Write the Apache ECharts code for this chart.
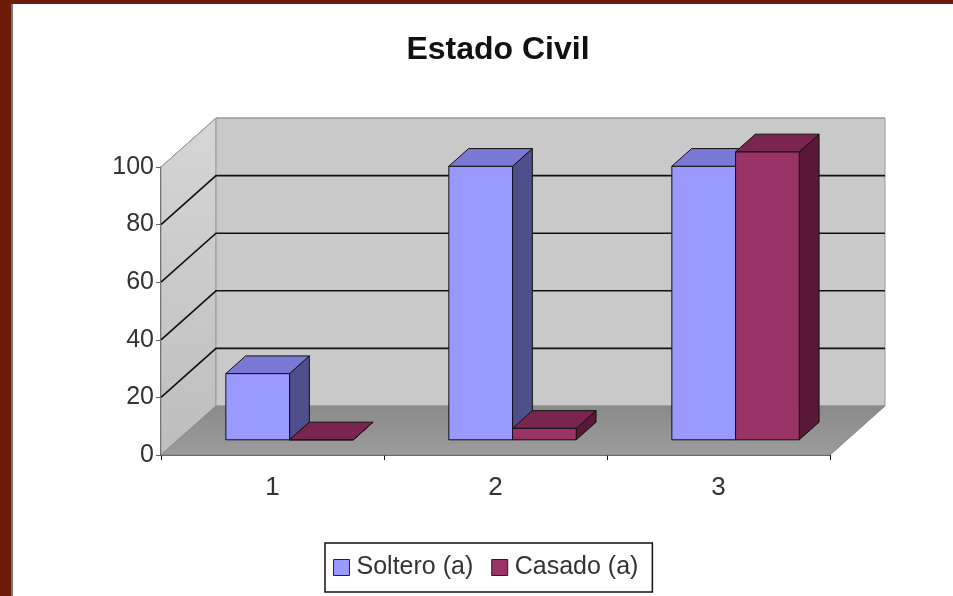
<!DOCTYPE html>
<html>
<head>
<meta charset="utf-8">
<script src="https://cdn.jsdelivr.net/npm/echarts@6/dist/echarts.min.js"></script>
<style>
  html, body { margin: 0; padding: 0; background: #fff; }
  #main { width: 953px; height: 596px; }
</style>
</head>
<body>
<div id="main"></div>
<script>
  const categories = ['1', '2', '3'];
  const soltero = [23, 95, 95];
  const casado = [0, 4, 100];
  const yTicks = [0, 20, 40, 60, 80, 100];

  // 3D look: full depth offset of the box and the slice of depth the bars use
  const DX = 55, DY = -49;
  const F0 = 0.31, F1 = 0.67;
  const font = "'Liberation Sans', Arial, sans-serif";

  const drawBox = (params, api) => {
    const cs = params.coordSys;
    const L = cs.x, R = cs.x + cs.width;
    const y = v => api.coord([0, v])[1];
    const y0 = y(0), yTop = y(100);
    const children = [];
    children.push({
      type: 'polygon',
      shape: { points: [[L, y0], [L, yTop], [L + DX, yTop + DY], [L + DX, y0 + DY]] },
      style: { fill: new echarts.graphic.LinearGradient(0, 0, 0, 1, [
        { offset: 0, color: '#d6d6d6' }, { offset: 1, color: '#bdbdbd' }
      ]), stroke: '#9a9a9a', lineWidth: 1 }
    });
    children.push({
      type: 'polygon',
      shape: { points: [[L + DX, yTop + DY], [R + DX, yTop + DY], [R + DX, y0 + DY], [L + DX, y0 + DY]] },
      style: { fill: '#c9c9c9', stroke: '#9a9a9a', lineWidth: 1 }
    });
    children.push({
      type: 'polygon',
      shape: { points: [[L, y0], [R, y0], [R + DX, y0 + DY], [L + DX, y0 + DY]] },
      style: { fill: new echarts.graphic.LinearGradient(0, 0, 0, 1, [
        { offset: 0, color: '#8a8a8a' }, { offset: 1, color: '#9c9c9c' }
      ]), stroke: '#8a8a8a', lineWidth: 1 }
    });
    yTicks.forEach(v => {
      if (v === 0) return;
      const yy = y(v);
      const top = v === 100;
      children.push({
        type: 'polyline',
        shape: { points: [[L, yy], [L + DX, yy + DY], [R + DX, yy + DY]] },
        style: { fill: null, stroke: top ? '#9a9a9a' : '#111', lineWidth: top ? 1 : 1.6 }
      });
    });
    return { type: 'group', children };
  };

  const makeBar = (shift, colors) => (params, api) => {
    const top = api.coord([api.value(0), api.value(1)]);
    const base = api.coord([api.value(0), 0]);
    const band = api.size([1, 0])[0];
    const w = band / 3.5;
    const x0 = top[0] + shift * w + F0 * DX;
    const x1 = x0 + w;
    const yt = top[1] + F0 * DY;
    const yb = base[1] + F0 * DY;
    const ddx = (F1 - F0) * DX, ddy = (F1 - F0) * DY;
    const line = { stroke: '#111', lineWidth: 1, lineJoin: 'round' };
    return {
      type: 'group',
      children: [
        { type: 'polygon', shape: { points: [[x1, yt], [x1, yb], [x1 + ddx, yb + ddy], [x1 + ddx, yt + ddy]] },
          style: Object.assign({ fill: colors[2] }, line) },
        { type: 'polygon', shape: { points: [[x0, yb], [x1, yb], [x1, yt], [x0, yt]] },
          style: Object.assign({ fill: colors[0] }, line) },
        { type: 'polygon', shape: { points: [[x0, yt], [x1, yt], [x1 + ddx, yt + ddy], [x0 + ddx, yt + ddy]] },
          style: Object.assign({ fill: colors[1] }, line) }
      ]
    };
  };

  const chart = echarts.init(document.getElementById('main'));
  const option = {
    animation: false,
    backgroundColor: '#ffffff',
    graphic: [
      { type: 'rect', left: 0, top: 0, shape: { width: 953, height: 4 }, style: { fill: '#6a1c08' } },
      { type: 'rect', left: 0, top: 0, shape: { width: 11, height: 596 }, style: { fill: '#6a1c08' } },
      { type: 'rect', left: 11, top: 4, shape: { width: 2, height: 592 }, style: { fill: '#777' } }
    ],
    title: {
      text: 'Estado Civil',
      left: 493,
      textAlign: 'center',
      top: 29,
      textStyle: { fontFamily: font, fontSize: 32, fontWeight: 'bold', color: '#111' }
    },
    legend: {
      left: 325,
      top: 543,
      orient: 'horizontal',
      data: ['Soltero (a)', 'Casado (a)'],
      icon: 'rect',
      itemWidth: 16,
      itemHeight: 16,
      itemGap: 18,
      padding: [12, 14, 12, 8],
      borderColor: '#111',
      borderWidth: 1.5,
      itemStyle: { borderColor: '#222', borderWidth: 1 },
      textStyle: { fontFamily: font, fontSize: 25, color: '#333', padding: [0, 0, 0, 2] }
    },
    grid: { left: 161, right: 123, top: 167, bottom: 141 },
    xAxis: {
      type: 'category',
      data: categories,
      axisLine: { lineStyle: { color: '#111', width: 1.5 } },
      axisTick: { show: true, length: 5, lineStyle: { color: '#111' } },
      axisLabel: { fontFamily: font, fontSize: 26, color: '#333', margin: 20 },
      splitLine: { show: false }
    },
    yAxis: {
      type: 'value',
      min: 0,
      max: 100,
      interval: 20,
      axisLine: { show: true, lineStyle: { color: '#111', width: 1.5 } },
      axisTick: { show: true, length: 5, lineStyle: { color: '#666' } },
      axisLabel: { fontFamily: font, fontSize: 25, color: '#333', margin: 7 },
      splitLine: { show: false }
    },
    series: [
      {
        type: 'custom',
        name: 'box',
        renderItem: drawBox,
        data: [[0, 0]],
        clip: false,
        silent: true,
        z: 1
      },
      {
        type: 'custom',
        name: 'Soltero (a)',
        itemStyle: { color: '#9999ff' },
        renderItem: makeBar(-1, ['#9999ff', '#7a7ad6', '#4f4f8c']),
        data: soltero.map((v, i) => [i, v]),
        clip: false,
        z: 2
      },
      {
        type: 'custom',
        name: 'Casado (a)',
        itemStyle: { color: '#993366' },
        renderItem: makeBar(0, ['#993366', '#7a2450', '#581838']),
        data: casado.map((v, i) => [i, v]),
        clip: false,
        z: 3
      }
    ]
  };
  option && chart.setOption(option);
</script>
</body>
</html>
